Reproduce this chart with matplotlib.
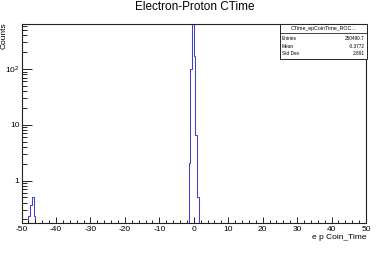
import matplotlib
matplotlib.use('Agg')
import matplotlib.pyplot as plt
from matplotlib.ticker import MultipleLocator, FixedLocator, FixedFormatter, LogLocator, NullFormatter
from matplotlib.patches import Rectangle
from matplotlib.lines import Line2D

plt.rcParams['font.family'] = ['Liberation Sans', 'DejaVu Sans']
plt.rcParams['axes.unicode_minus'] = False

# ---- data ----
bump_edges = [-48.0, -47.5, -47.0, -46.5, -46.0]
bump_counts = [0.23, 0.36, 0.51, 0.23]
peak_edges = [-1.5, -1.0, -0.5, 0.0, 0.5, 1.0, 1.5]
peak_counts = [2.1, 98, 2000, 174, 6.5, 0.5]

x_ticks = [-50, -40, -30, -20, -10, 0, 10, 20, 30, 40, 50]
x_tick_labels = ['-50', '-40', '-30', '-20', '-10', '0', '10', '20', '30', '40', '50']
y_ticks = [1, 10, 100]
y_tick_labels = ['1', '10', r'$\mathregular{10^2}$']

stat_name = 'CTime_epCoinTime_ROC...'
stat_labels = ['Entries', 'Mean', 'Std Dev']
stat_values = ['250490.7', '-0.3772', '2.891']

# ---- figure ----
W, H = 378, 277
fig = plt.figure(figsize=(W / 100, H / 100), dpi=100)
fig.patch.set_facecolor('white')

def fx(px):
    return px / W

def fy(py):
    return 1 - py / H

ax = fig.add_axes([fx(21.5), fy(223), fx(366) - fx(21.5), fy(24) - fy(223)])
col = '#4040d0'
ax.stairs(peak_counts, peak_edges, baseline=1e-3, color=col, lw=0.75)
ax.stairs(bump_counts, bump_edges, baseline=1e-3, color=col, lw=0.75)

ax.set_yscale('log')
ax.set_xlim(-50, 50)
ax.set_ylim(0.173, 641)

ax.xaxis.set_major_locator(FixedLocator(x_ticks))
ax.xaxis.set_major_formatter(FixedFormatter(x_tick_labels))
ax.xaxis.set_minor_locator(MultipleLocator(2))
ax.yaxis.set_major_locator(FixedLocator(y_ticks))
ax.yaxis.set_major_formatter(FixedFormatter(y_tick_labels))
ax.yaxis.set_minor_locator(LogLocator(base=10, subs=[2, 3, 4, 5, 6, 7, 8, 9], numticks=20))
ax.yaxis.set_minor_formatter(NullFormatter())

ax.tick_params(which='both', direction='in', top=False, right=False, width=0.6, colors='black')
ax.tick_params(axis='x', which='major', length=4.3, pad=2.0, labelsize=6)
ax.tick_params(axis='x', which='minor', length=2.2)
ax.tick_params(axis='y', which='major', length=7.5, pad=1.5, labelsize=6)
ax.tick_params(axis='y', which='minor', length=3.8)
for s in ax.spines.values():
    s.set_linewidth(0.8)
    s.set_color('#222222')

# title and axis titles
fig.text(fx(195), fy(7.5), 'Electron-Proton CTime', ha='center', va='center', fontsize=8.5)
fig.text(fx(367), fy(239), 'e p Coin_Time', ha='right', va='baseline', fontsize=6)
fig.text(fx(0.5), fy(22), 'Counts', rotation=90, ha='left', va='top', fontsize=6)

# stat box
bx0, bx1, by0, by1 = 280, 367, 24, 59.3
fig.patches.append(Rectangle((fx(bx0), fy(by1)), fx(bx1) - fx(bx0), fy(by0) - fy(by1),
                             transform=fig.transFigure, facecolor='white',
                             edgecolor='#222222', lw=0.7, zorder=5))
fig.lines.append(Line2D([fx(bx0), fx(bx1)], [fy(32.7), fy(32.7)], transform=fig.transFigure,
                        color='#222222', lw=0.6, zorder=6))
fig.text(fx((bx0 + bx1) / 2), fy(28.3), stat_name, ha='center', va='center', fontsize=3.8, zorder=7)
row_y = [38.3, 46.0, 53.3]
for lab, val, yy in zip(stat_labels, stat_values, row_y):
    fig.text(fx(282), fy(yy), lab, ha='left', va='center', fontsize=3.4, zorder=7)
    fig.text(fx(364.5), fy(yy), val, ha='right', va='center', fontsize=3.4, zorder=7)

fig.savefig('out.png', dpi=100, facecolor='white')
